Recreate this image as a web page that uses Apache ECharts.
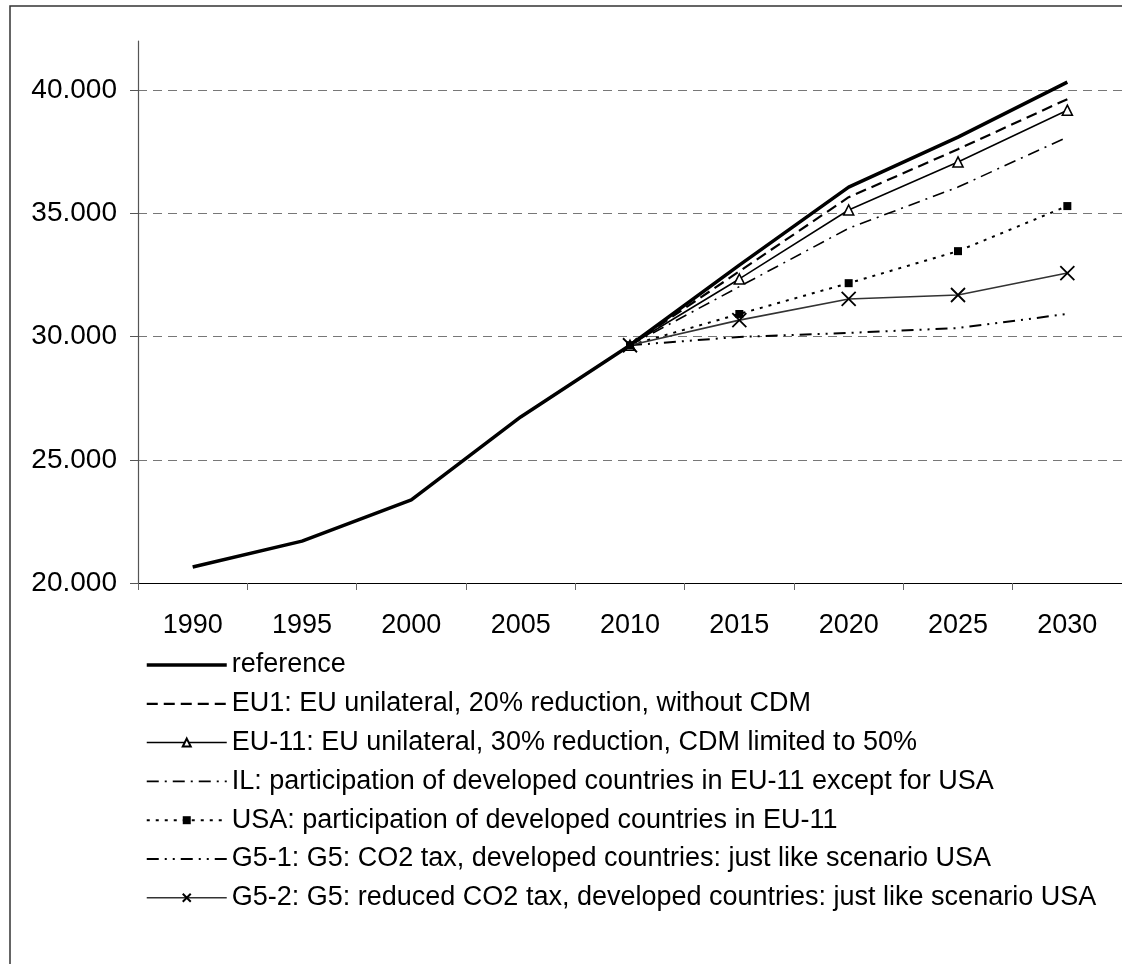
<!DOCTYPE html>
<html><head><meta charset="utf-8">
<script src="https://cdn.jsdelivr.net/npm/echarts@6/dist/echarts.min.js"></script>
<style>html,body{margin:0;padding:0;background:#fff}#c{width:1122px;height:964px}</style>
</head><body><div id="c"></div>
<script>
const years = ['1990','1995','2000','2005','2010','2015','2020','2025','2030'];
const yTicks = [20000, 25000, 30000, 35000, 40000];
const names = [
  'reference',
  'EU1: EU unilateral, 20% reduction, without CDM',
  'EU-11: EU unilateral, 30% reduction, CDM limited to 50%',
  'IL: participation of developed countries in EU-11 except for USA',
  'USA: participation of developed countries in EU-11',
  'G5-1: G5: CO2 tax, developed countries: just like scenario USA',
  'G5-2: G5: reduced CO2 tax, developed countries: just like scenario USA'
];
const reference = [20650, 21700, 23370, 26740, 29650, 32900, 36070, 38100, 40330];
const eu1  = [null, null, null, null, 29650, 32650, 35660, 37610, 39640];
const eu11 = [null, null, null, null, 29650, 32340, 35140, 37090, 39190];
const il   = [null, null, null, null, 29650, 32030, 34400, 36070, 38100];
const usa  = [null, null, null, null, 29650, 30920, 32170, 33470, 35300];
const g51  = [null, null, null, null, 29650, 29990, 30150, 30350, 30920];
const g52  = [null, null, null, null, 29650, 30670, 31530, 31690, 32580];

const FONT = '"Liberation Sans", Arial, sans-serif';
const chart = echarts.init(document.getElementById('c'), null, {renderer: 'canvas'});
function ser(name, data, line, extra) {
  return Object.assign({
    name, type: 'line', data, symbol: 'circle', showSymbol: false, animation: false,
    lineStyle: Object.assign({color: '#000'}, line),
    itemStyle: {color: 'rgba(0,0,0,0)', borderWidth: 0}
  }, extra || {});
}
chart.setOption({
  animation: false,
  backgroundColor: '#fff',
  graphic: [{type: 'rect', shape: {x: 10, y: 6, width: 1300, height: 1100},
    style: {fill: 'none', stroke: '#333', lineWidth: 1.5}, silent: true}],
  grid: {left: 138, right: -4, top: 41, bottom: 381},
  legend: {
    orient: 'vertical', left: 140, top: 646, itemWidth: 80, itemHeight: 10, itemGap: 10.8,
    lineStyle: {width: 'inherit'},
    textStyle: {fontFamily: FONT, fontSize: 27, color: '#000', lineHeight: 28},
    data: names
  },
  xAxis: {
    type: 'category', data: years, boundaryGap: true,
    axisLine: {lineStyle: {color: '#000', width: 1.2}},
    axisTick: {show: true, length: 7, lineStyle: {color: '#666'}},
    axisLabel: {fontFamily: FONT, fontSize: 27, color: '#000', margin: 29}
  },
  yAxis: {
    type: 'value', min: 20000, max: 42000,
    axisLine: {show: true, lineStyle: {color: '#555', width: 1.2}},
    axisTick: {show: true, length: 8, lineStyle: {color: '#555'}, customValues: yTicks},
    axisLabel: {fontFamily: FONT, fontSize: 28, color: '#000', margin: 21, customValues: yTicks,
      formatter: v => (v / 1000).toFixed(3)},
    splitLine: {show: true, lineStyle: {color: '#777', type: [9, 6], width: 1.2}}
  },
  series: [
    ser(names[0], reference, {width: 3.5}),
    ser(names[1], eu1, {width: 2.2, type: [11, 6]}),
    ser(names[2], eu11, {width: 1.5}, {symbol: 'triangle', symbolSize: 10, showSymbol: true,
      itemStyle: {color: '#fff', borderColor: '#000', borderWidth: 1.6}}),
    ser(names[3], il, {width: 1.6, type: [12, 6, 2, 6]}),
    ser(names[4], usa, {width: 2, type: [3, 6]}, {symbol: 'rect', symbolSize: 8, showSymbol: true,
      itemStyle: {color: '#000'}}),
    ser(names[5], g51, {width: 2, type: [12, 6, 2, 6, 2, 6]}),
    ser(names[6], g52, {width: 1.6, color: '#333'}, {symbol: 'path://M0,0L10,10M10,0L0,10', symbolSize: 14, showSymbol: true,
      itemStyle: {color: 'none', borderColor: '#000', borderWidth: 1.8}})
  ]
});
</script></body></html>
